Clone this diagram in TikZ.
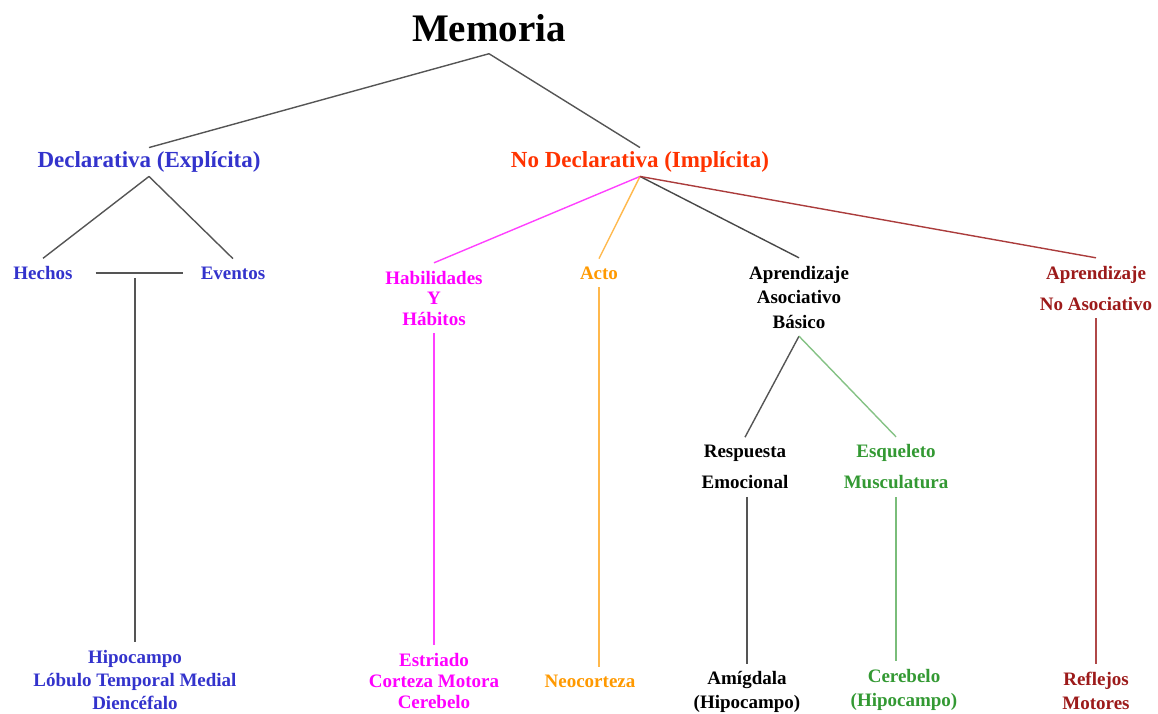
\documentclass[tikz,border=0pt]{standalone}
\usepackage{fontspec}
\setmainfont{Liberation Serif}
\usetikzlibrary{positioning}
\definecolor{azul}{HTML}{3333CC}
\definecolor{rojo}{HTML}{FF3300}
\definecolor{rosa}{HTML}{FF00FF}
\definecolor{naranja}{HTML}{FF9900}
\definecolor{verde}{HTML}{339933}
\definecolor{granate}{HTML}{9C1A1A}
\definecolor{gris}{HTML}{555555}

\begin{document}
\begin{tikzpicture}[x=1pt,y=-1pt,line width=1.4pt,
  every node/.style={align=center,outer sep=0pt},
  titulo/.style={font=\bfseries\fontsize{39}{40}\selectfont,inner sep=12pt},
  cabeza/.style={font=\bfseries\fontsize{23}{25}\selectfont,inner sep=4pt},
  lbl/.style={font=\bfseries\fontsize{19}{#1}\selectfont,inner sep=8pt},
  lbl/.default=22]
  \useasboundingbox (0,0) rectangle (1158,714);
  \node[titulo] (mem) at (489,28) {Memoria};
  \node[cabeza,text=azul] (decl) at (149,162) {Declarativa (Explícita)};
  \node[cabeza,text=rojo] (nodecl) at (640,162) {No Declarativa (Implícita)};
  % declarativa
  \node[lbl,text=azul] (hech) at (43,273) {Hechos};
  \node[lbl,text=azul] (even) at (233,273) {Eventos};
  \coordinate (junc) at (135,278);
  \node[lbl=23,text=azul] (hipo) at (135,680) {Hipocampo\\Lóbulo Temporal Medial\\Diencéfalo};
  % no declarativa
  \node[lbl=20.5,text=rosa] (habi) at (434,298) {Habilidades\\Y\\Hábitos};
  \node[lbl=21,text=rosa] (estr) at (434,681) {Estriado\\Corteza Motora\\Cerebelo};
  \node[lbl,text=naranja] (acto) at (599,273) {Acto};
  \node[lbl,text=naranja] (neoc) at (590,681) {Neocorteza};
  \node[lbl=24.5] (asoc) at (799,297) {Aprendizaje\\Asociativo\\Básico};
  \node[lbl=31] (resp) at (745,467) {Respuesta\\Emocional};
  \node[lbl=31,text=verde] (esqu) at (896,467) {Esqueleto\\Musculatura};
  \node[lbl=23.5] (amig) at (747,692) {Amígdala\\(Hipocampo)};
  \node[lbl=24.5,text=verde] (cere) at (904,690) {Cerebelo\\(Hipocampo)};
  \node[lbl=31,text=granate] (noas) at (1096,288) {Aprendizaje\\No Asociativo};
  \node[lbl=24,text=granate] (refl) at (1096,691) {Reflejos\\Motores};

  \path (mem.south) edge[gris] (decl.north);
  \path (mem.south) edge[gris] (nodecl.north);
  \path (decl.south) edge[gris] (hech.north);
  \path (decl.south) edge[gris] (even.north);
  \path ([xshift=15pt]hech.east) edge[gris] ([xshift=-10pt]even.west);
  \path (junc) edge[gris] (hipo.north);
  \path (nodecl.south) edge[rosa!75] (habi.north);
  \path (nodecl.south) edge[naranja!70] (acto.north);
  \path (nodecl.south) edge[gris!85!black] (asoc.north);
  \path (nodecl.south) edge[granate!85] (noas.north);
  \path (habi.south) edge[rosa!75] (estr.north);
  \path (acto.south) edge[naranja!70] (acto.south |- neoc.north);
  \path (asoc.south) edge[gris] (resp.north);
  \path (asoc.south) edge[verde!60] (esqu.north);
  \path (amig.north |- resp.south) edge[gris] (amig.north);
  \path (esqu.south) edge[verde!65] (esqu.south |- cere.north);
  \path (noas.south) edge[granate!80] (refl.north);
\end{tikzpicture}
\end{document}
